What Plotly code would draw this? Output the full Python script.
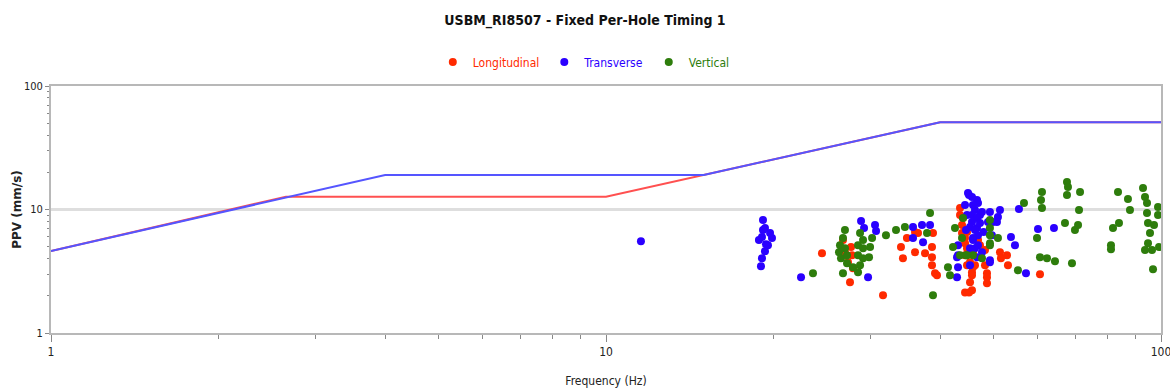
import plotly.graph_objects as go

# USBM RI8507 limit curves (frequency in Hz, PPV in mm/s)
drywall_freq = [1, 4, 15, 40, 100]
drywall_ppv = [4.6, 19.05, 19.05, 50.8, 50.8]
plaster_freq = [1, 2.65, 10, 15, 40, 100]
plaster_ppv = [4.6, 12.7, 12.7, 19.05, 50.8, 50.8]

# Measured events
long_freq = [24.50, 26.73, 26.95, 27.64, 27.75, 27.29, 27.86, 27.52, 31.56, 34.0,
             34.28, 34.85, 36.04, 36.04, 36.49, 37.57, 38.83, 38.67, 38.67, 38.67,
             39.16, 39.48, 43.44, 43.80, 44.35, 44.72, 45.28, 45.65, 45.28, 44.35,
             45.65, 48.58, 48.58, 48.18, 51.27, 51.48, 52.78, 53.00, 60.53, 43.44,
             44.72, 45.84, 46.22, 43.98, 43.80, 44.35, 44.35, 44.72, 45.84, 45.65,
             45.09, 47.19, 48.18, 48.58, 46.80]
long_ppv = [4.43, 5.65, 4.51, 4.96, 4.27, 3.74, 3.34, 2.57, 2.02, 4.96,
            4.03, 5.87, 4.51, 6.56, 6.44, 4.43, 6.44, 4.96, 4.11, 3.54,
            3.05, 2.94, 10.28, 7.48, 5.87, 4.86, 3.74, 3.10, 2.57, 2.13,
            2.22, 3.05, 2.53, 3.54, 4.51, 4.03, 4.27, 3.54, 2.99, 9.02,
            6.56, 4.51, 3.54, 8.53, 6.44, 5.34, 4.27, 3.54, 3.41, 2.94,
            2.13, 5.14, 4.69, 2.83, 5.65]

trans_freq = [11.56, 19.18, 19.34, 19.10, 18.86, 19.75, 19.91, 19.58, 19.34, 19.10,
              19.02, 19.42, 19.18, 22.46, 28.81, 29.17, 30.53, 30.66, 29.66, 35.74,
              35.74, 37.10, 37.26, 38.36, 45.09, 46.61, 46.22, 47.19, 45.65, 46.61,
              45.84, 46.80, 47.58, 42.90, 43.08, 42.90, 45.28, 49.18, 49.80, 49.18,
              44.35, 44.53, 44.72, 47.90, 45.28, 51.27, 50.84, 50.63, 55.47, 53.66,
              54.56, 60.03, 64.14, 57.11, 44.90, 45.65, 46.80, 45.84, 47.58, 45.65,
              46.61, 47.19, 45.28, 46.22, 46.80, 45.84, 46.22, 46.61, 43.08, 43.08,
              48.78, 49.59, 49.18]
trans_ppv = [5.54, 8.21, 7.07, 5.98, 5.65, 6.44, 5.87, 5.14, 4.60, 4.03,
             3.47, 5.24, 6.81, 2.83, 8.06, 7.07, 7.48, 6.69, 2.83, 7.21,
             5.87, 7.48, 5.44, 7.48, 13.12, 11.95, 9.91, 9.02, 7.91, 7.07,
             5.87, 5.14, 4.51, 4.11, 3.41, 2.83, 3.54, 9.54, 7.91, 3.74,
             10.87, 6.81, 9.02, 6.56, 4.86, 9.91, 8.69, 7.91, 10.09, 5.98,
             5.14, 6.94, 7.07, 3.05, 13.62, 12.64, 11.29, 10.87, 9.54, 9.02,
             8.53, 7.77, 7.21, 6.81, 6.20, 5.65, 4.86, 4.11, 5.14, 4.27,
             7.91, 6.20, 3.89]

vert_freq = [23.60, 26.95, 26.73, 26.40, 26.29, 26.51, 26.95, 27.18, 26.73, 27.18,
             28.69, 29.05, 28.45, 29.05, 28.45, 29.05, 28.69, 28.45, 30.16, 29.91,
             29.78, 27.86, 31.95, 33.31, 34.56, 38.36, 37.88, 41.32, 41.67, 38.83,
             42.54, 42.19, 43.98, 43.80, 43.44, 44.53, 45.84, 47.58, 49.18, 49.18,
             50.84, 55.24, 56.64, 59.78, 60.53, 62.31, 64.41, 69.12, 67.14, 69.98,
             70.88, 71.17, 71.47, 61.03, 60.78, 61.03, 67.70, 67.98, 67.70, 83.66,
             87.19, 87.92, 84.00, 81.94, 81.26, 81.26, 92.81, 93.58, 94.36, 94.36,
             94.75, 95.54, 94.75, 93.58, 96.34, 98.77, 98.77, 97.14, 99.18, 96.74,
             44.72, 49.18, 49.18, 49.18]
vert_ppv = [3.05, 6.81, 5.87, 5.14, 4.51, 4.03, 4.86, 4.27, 3.05, 3.67,
            6.44, 5.65, 5.14, 4.86, 4.27, 4.03, 3.54, 3.10, 5.87, 4.96,
            4.11, 3.41, 6.20, 6.81, 7.21, 9.36, 6.44, 3.41, 2.94, 2.02,
            7.07, 4.96, 8.53, 5.87, 4.27, 4.27, 4.27, 4.03, 7.07, 5.14,
            5.87, 3.22, 11.29, 5.87, 4.11, 4.03, 3.81, 3.67, 7.77, 6.81,
            7.48, 9.91, 13.88, 13.88, 11.95, 10.28, 16.73, 15.23, 13.12, 13.88,
            12.17, 9.91, 7.77, 7.07, 5.14, 4.77, 14.96, 12.64, 11.29, 9.36,
            7.77, 6.44, 5.34, 4.69, 4.69, 10.48, 9.02, 7.48, 4.96, 3.28,
            4.27, 8.21, 6.20, 5.34]

RED = "#ff2a00"
BLUE = "#2a00ff"
GREEN = "#2e7d0c"
FONT = "DejaVu Sans Condensed, Liberation Sans Narrow, Arial Narrow, sans-serif"

fig = go.Figure()

fig.add_trace(go.Scatter(x=plaster_freq, y=plaster_ppv, mode="lines",
                         line=dict(color="#ff5050", width=2), showlegend=False,
                         hoverinfo="skip"))
fig.add_trace(go.Scatter(x=drywall_freq, y=drywall_ppv, mode="lines",
                         line=dict(color="#5555ff", width=2), showlegend=False,
                         hoverinfo="skip"))

for name, xs, ys, col in [("Longitudinal", long_freq, long_ppv, RED),
                          ("Transverse", trans_freq, trans_ppv, BLUE),
                          ("Vertical", vert_freq, vert_ppv, GREEN)]:
    fig.add_trace(go.Scatter(
        x=xs, y=ys, mode="markers",
        marker=dict(color=col, size=8, line=dict(width=0)),
        name=f"<span style='color:{col}'>{name}</span>",
    ))

minor_vals = [v * m for m in (1, 10) for v in range(2, 10)]

fig.update_layout(
    width=1170, height=392, autosize=False,
    margin=dict(l=51, r=9, t=86, b=59, autoexpand=False),
    paper_bgcolor="white", plot_bgcolor="white",
    font=dict(family=FONT, size=12, color="#222"),
    title=dict(text="<b>USBM_RI8507 - Fixed Per-Hole Timing 1</b>",
               x=0.5, xref="container", xanchor="center",
               y=1 - 20 / 392, yref="container", yanchor="middle",
               font=dict(size=14, color="#111")),
    legend=dict(orientation="h", x=0.48, xref="paper", xanchor="center",
                y=1 + 24 / 247, yref="paper", yanchor="middle",
                font=dict(size=12), itemwidth=30, tracegroupgap=0,
                bgcolor="rgba(0,0,0,0)"),
    xaxis=dict(type="log", range=[0, 2], domain=[0, 1],
               tickvals=[1, 10, 100], ticktext=["1", "10", "100"],
               ticks="outside", ticklen=7, tickcolor="#888",
               ticklabeloverflow="allow",
               tickfont=dict(size=12, color="#222"),
               minor=dict(tickvals=minor_vals, ticks="outside", ticklen=4,
                          tickcolor="#888", showgrid=False),
               showgrid=False, zeroline=False,
               showline=True, linecolor="#b8b8b8", linewidth=2, mirror=True,
               title=dict(text="Frequency (Hz)", font=dict(size=12), standoff=18)),
    yaxis=dict(type="log", range=[0, 2], domain=[0, 1],
               tickvals=[1, 10, 100], ticktext=["1", "10", "100"],
               ticks="outside", ticklen=4, tickcolor="#888",
               ticklabeloverflow="allow",
               tickfont=dict(size=11, color="#222"),
               minor=dict(tickvals=minor_vals, ticks="outside", ticklen=2,
                          tickcolor="#888", showgrid=False),
               showgrid=True, gridcolor="#dedede", gridwidth=3, zeroline=False,
               showline=True, linecolor="#b8b8b8", linewidth=2, mirror=True,
               title=dict(text="<b>PPV (mm/s)</b>", standoff=0,
                          font=dict(size=12, family="DejaVu Sans, sans-serif"))),
)

fig.write_html("out.html")
